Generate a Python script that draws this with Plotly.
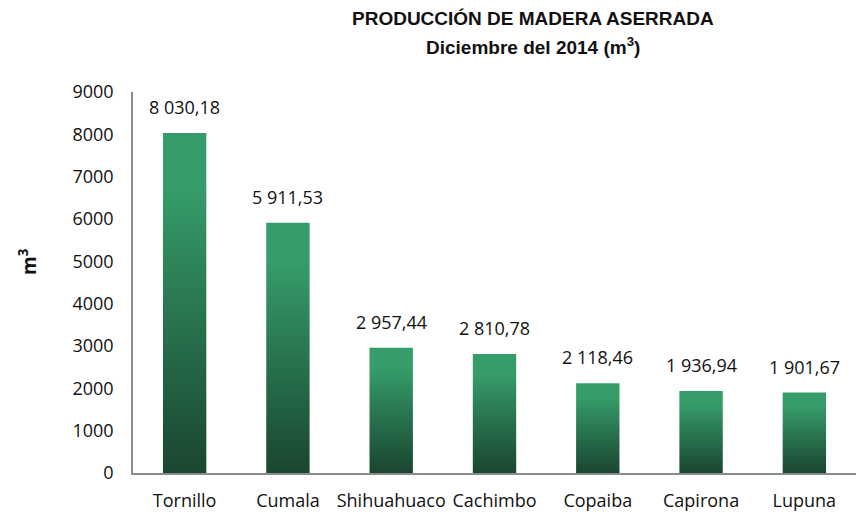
import plotly.graph_objects as go

# Sawn timber production by species, December 2014 (m3)
especies = ["Tornillo", "Cumala", "Shihuahuaco", "Cachimbo", "Copaiba", "Capirona", "Lupuna"]
volumen = [8030.18, 5911.53, 2957.44, 2810.78, 2118.46, 1936.94, 1901.67]
y_ticks = [0, 1000, 2000, 3000, 4000, 5000, 6000, 7000, 8000, 9000]

BAR_W = 0.42
DARK = "rgb(26,70,48)"
MID = "rgb(40,115,78)"
LIGHT = "rgb(54,157,106)"
TXT_FONT = "Open Sans, Lato, sans-serif"
TITLE_FONT = "Liberation Sans Narrow, Arial Narrow, sans-serif"

fig = go.Figure()

# each bar is a filled rectangle on the numeric x axis with a vertical gradient
for i, v in enumerate(volumen):
    fig.add_trace(go.Scatter(
        x=[i - BAR_W / 2, i + BAR_W / 2, i + BAR_W / 2, i - BAR_W / 2, i - BAR_W / 2],
        y=[0, 0, v, v, 0],
        mode="lines",
        line=dict(width=0),
        fill="toself",
        fillgradient=dict(type="vertical",
                          colorscale=[[0, DARK], [0.45, MID], [0.85, LIGHT], [1, LIGHT]]),
        hoverinfo="skip",
        showlegend=False,
    ))

# value labels above each bar, formatted with space thousands and comma decimals
for i, v in enumerate(volumen):
    etiqueta = f"{v:,.2f}".replace(",", " ").replace(".", ",")
    fig.add_annotation(
        x=i, y=v, text=etiqueta, showarrow=False,
        xanchor="center", yanchor="bottom", yshift=12,
        font=dict(family=TXT_FONT, size=18, color="#111111"),
    )

# two-line chart title
fig.add_annotation(
    xref="paper", yref="paper", x=0.553, y=1, yshift=74,
    text="<b>PRODUCCIÓN DE MADERA ASERRADA</b>", showarrow=False,
    xanchor="center", yanchor="middle",
    font=dict(family=TITLE_FONT, size=19, color="#111111"),
)
fig.add_annotation(
    xref="paper", yref="paper", x=0.553, y=1, yshift=46,
    text="<b>Diciembre del 2014 (m<sup>3</sup>)</b>", showarrow=False,
    xanchor="center", yanchor="middle",
    font=dict(family=TITLE_FONT, size=19, color="#111111"),
)

# rotated y-axis unit label
fig.add_annotation(
    xref="paper", yref="paper", x=0, xshift=-105, y=0.554,
    text="<b>m<sup>3</sup></b>", showarrow=False, textangle=-90,
    xanchor="center", yanchor="middle",
    font=dict(family=TXT_FONT, size=19, color="#111111"),
)

fig.update_layout(
    width=856, height=518,
    margin=dict(l=133, r=0, t=92, b=45),
    paper_bgcolor="white", plot_bgcolor="white",
    xaxis=dict(
        range=[-0.5, len(especies) - 0.5],
        tickmode="array",
        tickvals=list(range(len(especies))),
        ticktext=especies,
        showgrid=False, zeroline=False,
        showline=True, linecolor="#8c8c8c", linewidth=1.5,
        ticks="", tickfont=dict(family=TXT_FONT, size=18, color="#111111"),
        ticklabelstandoff=11,
    ),
    yaxis=dict(
        range=[0, 9000],
        tickmode="array",
        tickvals=y_ticks,
        showgrid=False, zeroline=False,
        showline=True, linecolor="#8c8c8c", linewidth=1.5,
        ticks="", tickfont=dict(family=TXT_FONT, size=18, color="#111111"),
        ticklabelstandoff=14,
    ),
)

fig.write_html("out.html")
